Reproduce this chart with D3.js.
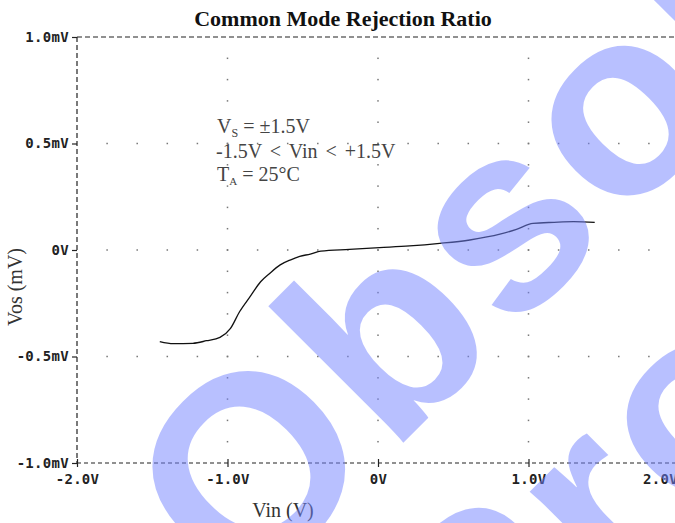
<!DOCTYPE html>
<html>
<head>
<meta charset="utf-8">
<script src="https://cdn.jsdelivr.net/npm/d3@7"></script>
<style>
  html, body { margin: 0; padding: 0; background: #fff; }
  svg { display: block; }
</style>
</head>
<body>
<svg id="chart" width="675" height="523"></svg>
<script>
// ---- data ----
const vin = [-1.45, -1.36, -1.23, -1.14, -1.05, -0.98, -0.92, -0.85, -0.78, -0.72, -0.65, -0.58, -0.52, -0.45, -0.38, -0.19, 0.01, 0.21, 0.41, 0.61, 0.81, 0.92, 1.03, 1.17, 1.30, 1.44];
const vos = [-0.43, -0.44, -0.438, -0.426, -0.41, -0.368, -0.29, -0.219, -0.149, -0.11, -0.07, -0.046, -0.03, -0.019, -0.005, 0.003, 0.011, 0.019, 0.031, 0.047, 0.074, 0.097, 0.125, 0.13, 0.133, 0.13];
const xTicks = [-2, -1, 0, 1, 2];
const xTickLabels = ["-2.0V", "-1.0V", "0V", "1.0V", "2.0V"];
const yTicks = [1, 0.5, 0, -0.5, -1];
const yTickLabels = ["1.0mV", "0.5mV", "0V", "-0.5mV", "-1.0mV"];
const title = "Common Mode Rejection Ratio";
const xTitle = "Vin (V)";
const yTitle = "Vos (mV)";
const watermark = ["Obsolete", "Product"];

const W = 675, H = 523;
const svg = d3.select("#chart");
const x = d3.scaleLinear().domain([-2, 2]).range([77, 679]);
const y = d3.scaleLinear().domain([-1, 1]).range([463, 37]);

// grid dots
const gridG = svg.append("g").attr("fill", "#777");
[0.5, 0, -0.5].forEach(yv => {
  d3.range(-1.8, 2.01, 0.2).forEach(xv => {
    gridG.append("rect").attr("x", x(xv) - 0.75).attr("y", y(yv) - 0.75).attr("width", 1.5).attr("height", 1.5);
  });
});
[-1, 0, 1].forEach(xv => {
  d3.range(-0.9, 0.91, 0.1).forEach(yv => {
    gridG.append("rect").attr("x", x(xv) - 0.75).attr("y", y(yv) - 0.75).attr("width", 1.5).attr("height", 1.5);
  });
});

// frame (dashed)
const frame = svg.append("g").attr("stroke", "#222").attr("stroke-width", 1.2).attr("stroke-dasharray", "5,3").attr("fill", "none");
frame.append("line").attr("x1", x(-2)).attr("x2", W).attr("y1", y(1)).attr("y2", y(1));
frame.append("line").attr("x1", x(-2)).attr("x2", W).attr("y1", y(-1)).attr("y2", y(-1)).attr("stroke-dasharray", "4,3");
frame.append("line").attr("x1", x(-2)).attr("x2", x(-2)).attr("y1", y(1)).attr("y2", y(-1));

// y axis
const yAxis = d3.axisLeft(y).tickValues(yTicks).tickSize(5).tickPadding(3)
  .tickFormat((d, i) => yTickLabels[i]);
const yg = svg.append("g").attr("transform", `translate(${x(-2)},0)`).call(yAxis);
yg.select(".domain").remove();
yg.selectAll("line").attr("stroke", "#222").attr("stroke-width", 1.2);
yg.selectAll("text").attr("font-family", "'DejaVu Sans Mono', monospace").attr("font-size", 14)
  .attr("font-weight", "bold").attr("fill", "#222").attr("letter-spacing", 0.3);

// x axis
const xAxis = d3.axisBottom(x).tickValues(xTicks).tickSize(0).tickPadding(11)
  .tickFormat((d, i) => xTickLabels[i]);
const xg = svg.append("g").attr("transform", `translate(0,${y(-1)})`).call(xAxis);
xg.select(".domain").remove();
xg.selectAll("text").attr("font-family", "'DejaVu Sans Mono', monospace").attr("font-size", 14)
  .attr("font-weight", "bold").attr("fill", "#222").attr("letter-spacing", 0.3);
xg.selectAll(".tick").filter(d => d === 2).select("text").attr("dx", -19);
xg.selectAll(".tick").append("line").attr("y1", -4).attr("y2", 4).attr("stroke", "#222").attr("stroke-width", 1.2);

// curve
const line = d3.line().x(d => x(d[0])).y(d => y(d[1])).curve(d3.curveMonotoneX);
svg.append("path").datum(vin.map((v, i) => [v, vos[i]]))
  .attr("d", line).attr("fill", "none").attr("stroke", "#111").attr("stroke-width", 1.3);

// title
svg.append("text").attr("x", 343).attr("y", 26).attr("text-anchor", "middle")
  .attr("font-family", "'Liberation Serif', 'Times New Roman', serif").attr("font-weight", "bold")
  .attr("font-size", 22).attr("fill", "#111").text(title);

// axis titles
svg.append("text").attr("x", 283).attr("y", 517).attr("text-anchor", "middle")
  .attr("font-family", "'Liberation Serif', serif").attr("font-size", 20).attr("fill", "#333").text(xTitle);
svg.append("text").attr("transform", "translate(22,287) rotate(-90)").attr("text-anchor", "middle")
  .attr("font-family", "'Liberation Serif', serif").attr("font-size", 20).attr("fill", "#333").text(yTitle);

// annotation
const ann = svg.append("g").attr("font-family", "'Liberation Serif', serif").attr("font-size", 20).attr("fill", "#444");
const t1 = ann.append("text").attr("x", 217).attr("y", 133);
t1.append("tspan").text("V");
t1.append("tspan").attr("font-size", 12).attr("dy", 4).text("S");
t1.append("tspan").attr("dy", -4).text(" = ±1.5V");
ann.append("text").attr("x", 216).attr("y", 158).attr("word-spacing", 3).text("-1.5V < Vin < +1.5V");
const t3 = ann.append("text").attr("x", 217).attr("y", 181);
t3.append("tspan").text("T");
t3.append("tspan").attr("font-size", 11).attr("dy", 4).text("A");
t3.append("tspan").attr("dy", -4).text(" = 25°C");

// watermark
const wm = svg.append("g").attr("transform", "translate(241,605) rotate(-45)")
  .attr("font-family", "'Liberation Sans', Arial, sans-serif").attr("font-weight", "bold")
  .attr("font-size", 265).attr("letter-spacing", 6).attr("fill", "rgb(115,131,255)").attr("opacity", 0.5);
wm.append("text").attr("x", 0).attr("y", 0).text(watermark[0]);
wm.append("text").attr("x", 84).attr("y", 264).text(watermark[1]);
</script>
</body>
</html>
